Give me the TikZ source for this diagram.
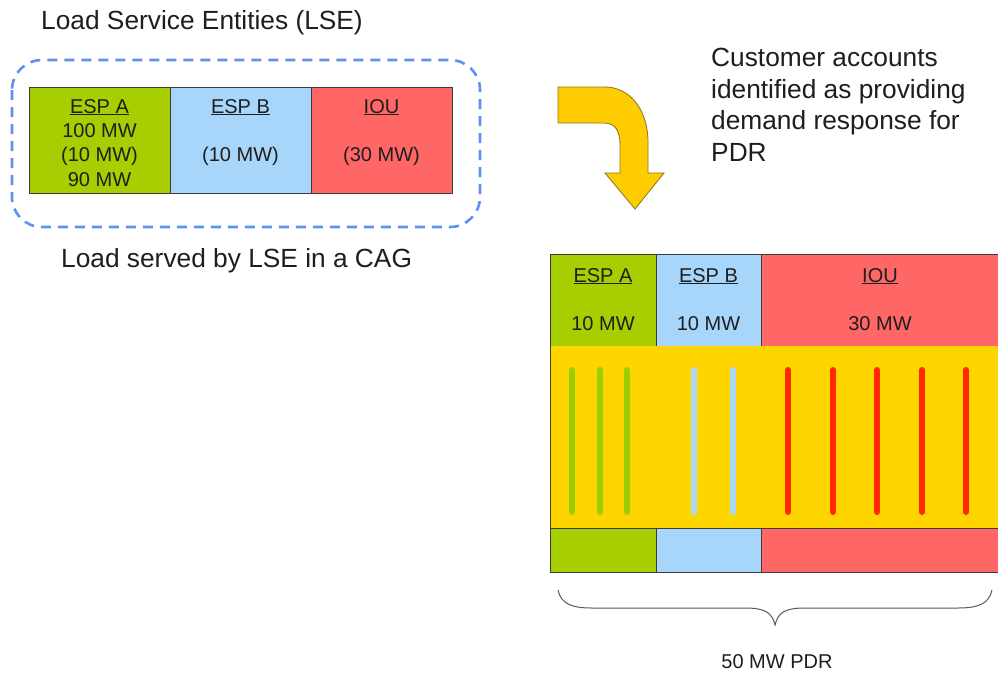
\documentclass[tikz,border=0pt]{standalone}
\usepackage{fontspec}
\setmainfont{Liberation Sans}
\definecolor{espAgreen}{RGB}{166,206,0}
\definecolor{espBblue}{RGB}{168,214,250}
\definecolor{iouRed}{RGB}{255,102,102}
\definecolor{bandYellow}{RGB}{255,213,0}
\definecolor{arrowYellow}{RGB}{255,204,0}
\definecolor{arrowEdge}{RGB}{140,115,40}
\definecolor{redStripe}{RGB}{255,42,0}
\definecolor{greenStripe}{RGB}{155,205,0}
\definecolor{blueStripe}{RGB}{170,215,250}
\definecolor{groupBlue}{RGB}{95,145,240}
\definecolor{cellEdge}{RGB}{60,60,60}
\definecolor{textDark}{RGB}{30,30,30}
\begin{document}
\begin{tikzpicture}[x=1pt,y=-1pt,
  cell/.style={draw=cellEdge, line width=0.9pt, inner sep=0pt, outer sep=0pt, anchor=north west},
  bigtext/.style={font=\fontsize{26.3}{31.5}\selectfont, text=textDark, inner sep=0pt},
  celltext/.style={font=\fontsize{20}{24}\selectfont, text=textDark, inner sep=0pt, anchor=base},
  stripe/.style={line width=6pt, line cap=round}
]
\useasboundingbox (0,0) rectangle (998,673);
\fill[white] (0,0) rectangle (998,673);

% ---- load served by the LSEs in a CAG ----
\node[bigtext, anchor=base west] (lseTitle) at (41,29.5) {Load Service Entities (LSE)};
\node[cell, fill=espAgreen, minimum width=141pt, minimum height=106pt] (la) at (29,87) {};
\node[cell, fill=espBblue, minimum width=141pt, minimum height=106pt] (lb) at (170,87) {};
\node[cell, fill=iouRed, minimum width=141pt, minimum height=106pt] (lc) at (311,87) {};

\node[celltext] (laName) at (99.5,113) {\underline{ESP A}};
\node[celltext] (laTotal) at (99.5,137) {100 MW};
\node[celltext] (laDR) at (99.5,161.5) {(10 MW)};
\node[celltext] (laNet) at (99.5,186) {90 MW};
\node[celltext] (lbName) at (240.5,113) {\underline{ESP B}};
\node[celltext] (lbDR) at (240.5,161.5) {(10 MW)};
\node[celltext] (lcName) at (381.5,113) {\underline{IOU}};
\node[celltext] (lcDR) at (381.5,161.5) {(30 MW)};

\draw[groupBlue, line width=2.6pt, dash pattern=on 10pt off 7pt, rounded corners=30pt]
  (12,60) rectangle (480,227);
\node[bigtext, anchor=base west] (cagLabel) at (61,267) {Load served by LSE in a CAG};

% ---- bent arrow ----
\filldraw[fill=arrowYellow, draw=arrowEdge, line width=0.8pt, line join=miter]
  (558,87) -- (605,87)
  .. controls (630,87) and (648,110) .. (648,142)
  -- (648,173) -- (664,173) -- (635,209) -- (605,173) -- (620,173) -- (620,145)
  .. controls (620,132) and (616,123) .. (604,123)
  -- (558,123) -- cycle;

\node[bigtext, anchor=north west, align=left] (pdrNote) at (711,48)
  {Customer accounts\\identified as providing\\demand response for\\PDR};

% ---- PDR resource ----
\node[cell, fill=espAgreen, minimum width=106pt, minimum height=92pt] (ra) at (550,254) {};
\node[cell, fill=espBblue, minimum width=105pt, minimum height=92pt] (rb) at (656,254) {};
\node[cell, fill=iouRed, minimum width=245pt, minimum height=92pt] (rc) at (761,254) {};
\node[cell, fill=bandYellow, draw=none, minimum width=456pt, minimum height=182pt] (band) at (550,346) {};
\node[cell, fill=espAgreen, minimum width=106pt, minimum height=44pt] (sa) at (550,528) {};
\node[cell, fill=espBblue, minimum width=105pt, minimum height=44pt] (sb) at (656,528) {};
\node[cell, fill=iouRed, minimum width=245pt, minimum height=44pt] (sc) at (761,528) {};
\draw[cellEdge, line width=0.9pt] (band.north west) -- (band.south west);

\node[celltext] (raName) at (603,282) {\underline{ESP A}};
\node[celltext] (raMW) at (603,330) {10 MW};
\node[celltext] (rbName) at (708.5,282) {\underline{ESP B}};
\node[celltext] (rbMW) at (708.5,330) {10 MW};
\node[celltext] (rcName) at (880,282) {\underline{IOU}};
\node[celltext] (rcMW) at (880,330) {30 MW};

% customer accounts
\foreach \x in {572,600,627} \draw[stripe, greenStripe] (\x,370) -- (\x,512);
\foreach \x in {694,733} \draw[stripe, blueStripe] (\x,370) -- (\x,512);
\foreach \x in {788,833,877,922,966} \draw[stripe, redStripe] (\x,370) -- (\x,512);

% brace under the resource
\draw[gray!70!black, line width=1pt]
  (558,590) .. controls (561,604) and (572,608) .. (592,608)
  -- (745,608) .. controls (766,608) and (772,613) .. (775,625)
  .. controls (778,613) and (784,608) .. (805,608)
  -- (958,608) .. controls (978,608) and (989,604) .. (992,590);
\node[celltext] (pdrTotal) at (777,668) {50 MW PDR};
\end{tikzpicture}
\end{document}
